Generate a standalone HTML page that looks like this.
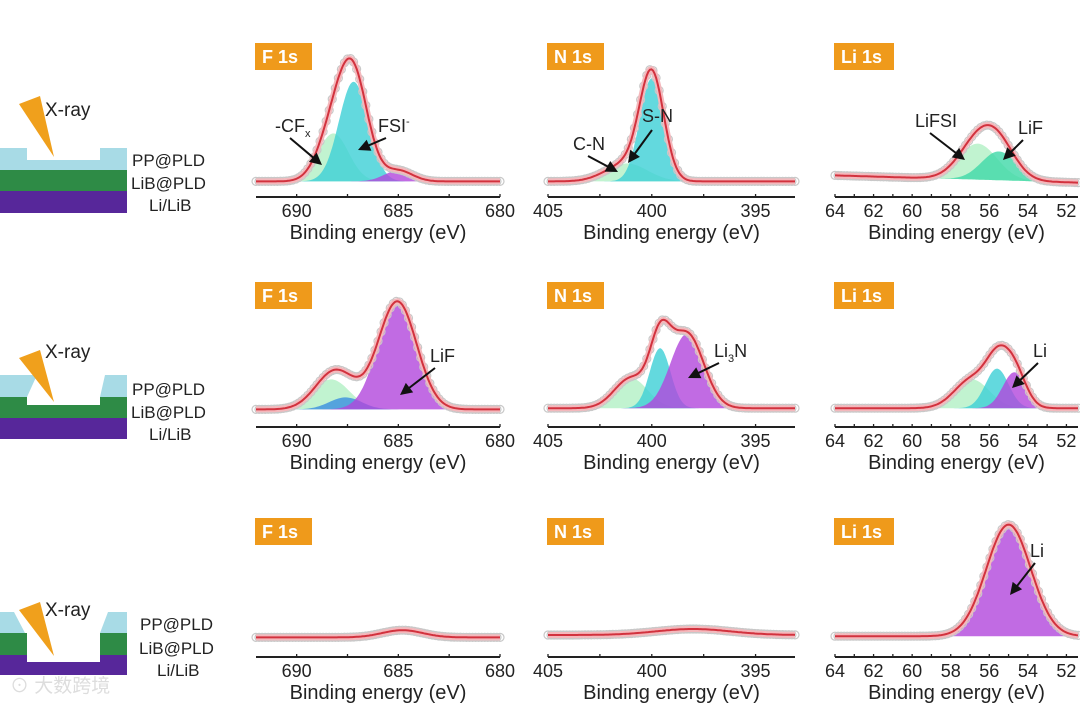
<!DOCTYPE html>
<html><head><meta charset="utf-8"><style>
body{margin:0;background:#fff;}
svg text{font-family:"Liberation Sans","Noto Sans CJK SC",sans-serif;}
</style></head><body>
<svg id="fig" width="1080" height="705" viewBox="0 0 1080 705" xmlns="http://www.w3.org/2000/svg">
<rect width="1080" height="705" fill="#fff"/>
<g>
<rect x="0" y="148" width="127" height="22" fill="#a8dbe6"/>
<rect x="27" y="148" width="73" height="12" fill="#fff"/>
<rect x="0" y="170" width="127" height="21" fill="#2e8b46"/>
<rect x="0" y="191" width="127" height="22" fill="#57279a"/>
<polygon points="19,104 40,96 54,157" fill="#f0a01c"/>
<text x="45" y="116" font-size="19" fill="#222">X-ray</text>
<text x="132" y="166" font-size="17" fill="#222">PP@PLD</text>
<text x="131" y="189" font-size="17" fill="#222">LiB@PLD</text>
<text x="149" y="211" font-size="17" fill="#222">Li/LiB</text>
</g>
<g>
<polygon points="0,375 37,375 27,397 100,397 105,375 127,375 127,397 0,397" fill="#a8dbe6"/>
<polygon points="0,397 127,397 127,418 0,418" fill="#2e8b46"/>
<rect x="27" y="397" width="73" height="8" fill="#fff"/>
<rect x="0" y="418" width="127" height="21" fill="#57279a"/>
<polygon points="19,358 40,350 54,402" fill="#f0a01c"/>
<text x="45" y="358" font-size="19" fill="#222">X-ray</text>
<text x="132" y="395" font-size="17" fill="#222">PP@PLD</text>
<text x="131" y="418" font-size="17" fill="#222">LiB@PLD</text>
<text x="149" y="440" font-size="17" fill="#222">Li/LiB</text>
</g>
<g>
<polygon points="0,612 14,612 25,633 100,633 108,612 127,612 127,633 0,633" fill="#a8dbe6"/>
<rect x="0" y="633" width="127" height="22" fill="#2e8b46"/>
<rect x="0" y="655" width="127" height="20" fill="#57279a"/>
<rect x="27" y="633" width="73" height="29" fill="#fff"/>
<polygon points="19,610 40,602 54,656" fill="#f0a01c"/>
<text x="45" y="616" font-size="19" fill="#222">X-ray</text>
<text x="140" y="630" font-size="17" fill="#222">PP@PLD</text>
<text x="139" y="654" font-size="17" fill="#222">LiB@PLD</text>
<text x="157" y="676" font-size="17" fill="#222">Li/LiB</text>
</g>
<text x="10" y="692" font-size="19" fill="#ddd">⊙ 大数跨境</text>
<g id="panels"></g>
</svg>
<script>
// Peak components per panel: [center eV, amplitude (0-1), sigma eV, colorKey]
const f1sRow1 = [[688.2,0.40,0.75,'g'],[687.2,0.83,0.72,'c'],[685.0,0.09,0.7,'p']];
const n1sRow1 = [[401.2,0.15,1.0,'g'],[400.0,0.86,0.58,'c']];
const li1sRow1 = [[56.6,0.30,1.0,'g'],[55.5,0.24,0.9,'t']];
const f1sRow2 = [[688.3,0.25,0.9,'g'],[687.6,0.10,0.8,'b'],[685.05,0.90,0.95,'p']];
const n1sRow2 = [[401.0,0.25,0.8,'g'],[399.6,0.50,0.5,'c'],[398.3,0.62,0.8,'p']];
const li1sRow2 = [[56.9,0.24,0.9,'g'],[55.6,0.33,0.6,'c'],[54.7,0.30,0.6,'p']];
const f1sRow3 = [[684.8,0.06,1.0,'n']];
const n1sRow3 = [[398.0,0.05,1.8,'n']];
const li1sRow3 = [[55.0,0.93,1.15,'p']];
// Background levels (left, right) per panel
const bgRow1 = [[0.03,0.03],[0.03,0.03],[0.08,0.02]];
const bgRow2 = [[0.03,0.03],[0.04,0.04],[0.04,0.04]];
const bgRow3 = [[0.03,0.03],[0.05,0.05],[0.04,0.04]];
// Axis tick labels per column
const ticksF = [690,685,680];
const ticksN = [405,400,395];
const ticksLi = [64,62,60,58,56,54,52];

const colors={g:'#b2f0c4',c:'#3ccfd6',p:'#b246dc',t:'#3fd8a8',b:'#3a8ee0',n:'none'};
const cols=[
 {x0:256,x1:500,e0:692,e1:680,ticks:ticksF,minor:2.5,badge:'F 1s'},
 {x0:548,x1:795,e0:405,e1:393.1,ticks:ticksN,minor:2.5,badge:'N 1s'},
 {x0:835,x1:1078,e0:64,e1:51.4,ticks:ticksLi,minor:1,badge:'Li 1s'}];
const rows=[{axis:197,base:185,badge:43,peaks:[f1sRow1,n1sRow1,li1sRow1],bg:bgRow1},
 {axis:427,base:413,badge:282,peaks:[f1sRow2,n1sRow2,li1sRow2],bg:bgRow2},
 {axis:657,base:641,badge:518,peaks:[f1sRow3,n1sRow3,li1sRow3],bg:bgRow3}];
const H=120;
const NS='http://www.w3.org/2000/svg';
const root=document.getElementById('panels');
function mk(tag,attrs,parent){const e=document.createElementNS(NS,tag);for(const k in attrs)e.setAttribute(k,attrs[k]);(parent||root).appendChild(e);return e;}
function gauss(e,p){return p[1]*Math.exp(-0.5*Math.pow((e-p[0])/p[2],2));}

rows.forEach((r,ri)=>{cols.forEach((c,ci)=>{
 const g=mk('g',{});
 
 
 const X=e=>c.x0+(c.e0-e)/(c.e0-c.e1)*(c.x1-c.x0);
 const peaks=r.peaks[ci], bg=r.bg[ci];
 const BG=e=>bg[0]+(bg[1]-bg[0])*(c.e0-e)/(c.e0-c.e1);
 const Y=v=>r.base-v*H;
 const N=160, es=[];for(let i=0;i<=N;i++)es.push(c.e0-(c.e0-c.e1)*i/N);
 const b=mk('rect',{x:c.x0-1,y:r.badge,width:ci==2?60:57,height:27,fill:'#ef9a1b'},g);
 
 
 const bt=mk('text',{x:c.x0+6,y:r.badge+20,'font-size':18,'font-weight':'bold',fill:'#fff'},g);bt.textContent=c.badge;
 peaks.forEach(p=>{ if(colors[p[3]]==='none')return;
  let d='';es.forEach((e,i)=>{d+=(i?'L':'M')+X(e).toFixed(1)+','+Y(BG(e)+gauss(e,p)).toFixed(1);});
  for(let i=N;i>=0;i--)d+='L'+X(es[i]).toFixed(1)+','+Y(BG(es[i])).toFixed(1);
  const a=mk('path',{d:d+'Z',fill:colors[p[3]],'fill-opacity':0.8},g);
  
  
 });
 const env=e=>BG(e)+peaks.reduce((s,p)=>s+gauss(e,p),0);
 for(let i=0;i<=N;i+=2){const ci2=mk('circle',{cx:X(es[i]),cy:Y(env(es[i])),r:4,fill:'none',stroke:'#c8c8c8','stroke-width':1.2},g);
  
  }
 let d='';es.forEach((e,i)=>{d+=(i?'L':'M')+X(e).toFixed(1)+','+Y(env(e)).toFixed(1);});
 mk('path',{d:d,fill:'none',stroke:'#f4b8bc','stroke-width':6},g);
 const fl=mk('path',{d:d,fill:'none',stroke:'#d2323e','stroke-width':2},g);
 
 
 const ax=mk('line',{x1:c.x0,x2:c.x1,y1:r.axis,y2:r.axis,stroke:'#222','stroke-width':2},g);
 
 
 for(let e=Math.ceil(c.e1/c.minor)*c.minor;e<=c.e0+1e-6;e+=c.minor){mk('line',{x1:X(e),x2:X(e),y1:r.axis,y2:r.axis-3,stroke:'#222','stroke-width':1.3},g);}
 c.ticks.forEach(t=>{const tt=mk('text',{x:X(t),y:r.axis+20,'font-size':18,'text-anchor':'middle',fill:'#222'},g);tt.textContent=t;
  
  });
 const tl=mk('text',{x:(c.x0+c.x1)/2,y:r.axis+42,'font-size':20,'text-anchor':'middle',fill:'#222'},g);tl.textContent='Binding energy (eV)';
 
 
});});

const ann=[
 ['-CF',275,132,322,165,300,125,'x'],['FSI',378,132,358,150,0,0,'-'],
 ['C-N',573,150,618,172,0,0,''],['S-N',642,122,628,163,0,0,''],
 ['LiFSI',915,127,965,160,0,0,''],['LiF',1018,134,1003,160,0,0,''],
 ['LiF',430,362,400,395,0,0,''],['Li',714,357,688,378,0,0,'3N'],
 ['Li',1033,357,1012,388,0,0,''],['Li',1030,557,1010,595,0,0,'']];
ann.forEach(a=>{
 const t=mk('text',{x:a[1],y:a[2],'font-size':18,fill:'#222'});
 
 
 t.textContent=a[0];
 if(a[7]==='x'){const s=mk('tspan',{'font-size':11,dy:5},t);s.textContent='x';}
 if(a[7]==='-'){const s=mk('tspan',{'font-size':11,dy:-7},t);s.textContent='-';}
 if(a[7]==='3N'){const s=mk('tspan',{'font-size':11,dy:5},t);s.textContent='3';const s2=mk('tspan',{dy:-5},t);s2.textContent='N';}
 let sx=a[1]+(a[3]>a[1]?15:5), sy=a[2]+6;
 if(a[0]==='FSI'){sx=a[1]+8;}
 if(a[0]==='S-N'){sx=a[1]+10;sy=a[2]+8;}
 const ex=a[3],ey=a[4];
 const ang=Math.atan2(ey-sy,ex-sx);
 mk('line',{x1:sx,y1:sy,x2:ex-9*Math.cos(ang),y2:ey-9*Math.sin(ang),stroke:'#111','stroke-width':2});
 const hx=ex,hy=ey,l=12,w=6;
 const p1=[hx-l*Math.cos(ang)+w*Math.sin(ang),hy-l*Math.sin(ang)-w*Math.cos(ang)];
 const p2=[hx-l*Math.cos(ang)-w*Math.sin(ang),hy-l*Math.sin(ang)+w*Math.cos(ang)];
 mk('polygon',{points:hx+','+hy+' '+p1.join(',')+' '+p2.join(','),fill:'#111'});
});
</script>
</body></html>
